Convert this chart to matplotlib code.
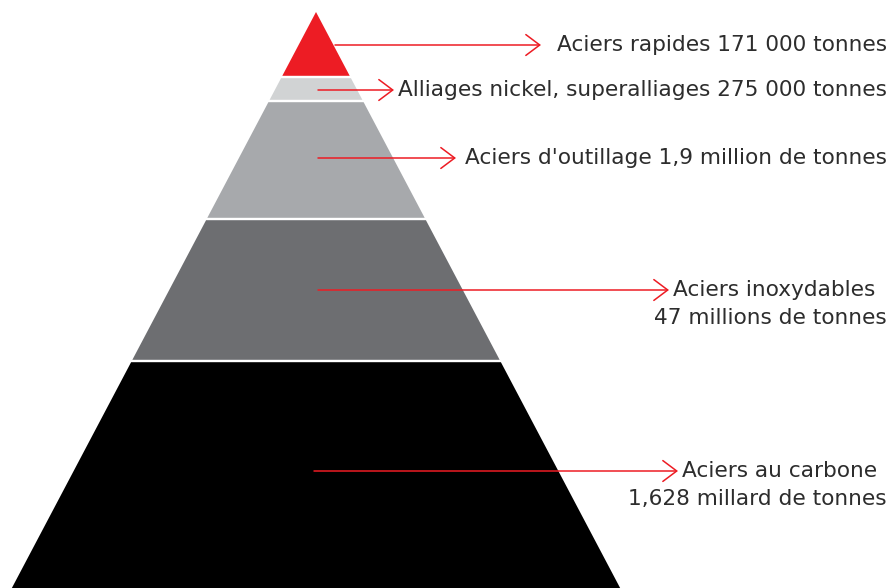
import matplotlib.pyplot as plt
from matplotlib.patches import Polygon

# steel production by family, tonnes per year (top to bottom of the pyramid)
families = ["Aciers rapides", "Alliages nickel, superalliages", "Aciers d'outillage",
            "Aciers inoxydables", "Aciers au carbone"]
tonnages = [171e3, 275e3, 1.9e6, 47e6, 1.628e9]
amounts = ["171 000 tonnes", "275 000 tonnes", "1,9 million de tonnes",
           "47 millions de tonnes", "1,628 millard de tonnes"]
colors = ["#ED1C24", "#D1D3D4", "#A7A9AC", "#6D6E71", "#000000"]

RED = "#ED1C24"
W, H = 891, 588

# pyramid geometry (pixels, y downward)
apex_x, apex_y = 316, 12
slope = 0.528
tier_bottoms = [77, 101, 219, 361, 600]
arrow_y = [45, 90, 158, 290, 471]
arrow_x0 = [335, 318, 318, 318, 314]
arrow_x1 = [541, 394, 456, 669, 678]
two_line = [False, False, False, True, True]

fig = plt.figure(figsize=(W / 100, H / 100), dpi=100)
ax = fig.add_axes([0, 0, 1, 1])
ax.set_xlim(0, W)
ax.set_ylim(H, 0)
ax.axis("off")

plt.rcParams["font.family"] = ["DejaVu Sans"]
fs = 15.6
txt = dict(fontsize=fs, fontweight="normal", color="#2d2d2d")

top = apex_y
for i, (bottom, c) in enumerate(zip(tier_bottoms, colors)):
    t = top + (1.2 if i > 0 else 0)
    b = bottom - 1.2
    ht, hb = slope * (t - apex_y), slope * (b - apex_y)
    pts = [(apex_x - ht, t), (apex_x + ht, t), (apex_x + hb, b), (apex_x - hb, b)]
    ax.add_patch(Polygon(pts, closed=True, facecolor=c, edgecolor="none"))
    top = bottom

for i in range(len(families)):
    y = arrow_y[i]
    ax.annotate("", xy=(arrow_x1[i], y), xytext=(arrow_x0[i], y),
                arrowprops=dict(arrowstyle="->,head_length=1.0,head_width=0.75",
                                color=RED, lw=1.1, shrinkA=0, shrinkB=0))
    if two_line[i]:
        ax.text(arrow_x1[i] + 4, y, families[i], ha="left", va="center", **txt)
        ax.text(887, y + 28, amounts[i], ha="right", va="center", **txt)
    else:
        ax.text(887, y, families[i] + " " + amounts[i], ha="right", va="center", **txt)

fig.savefig("out.png", dpi=100)
